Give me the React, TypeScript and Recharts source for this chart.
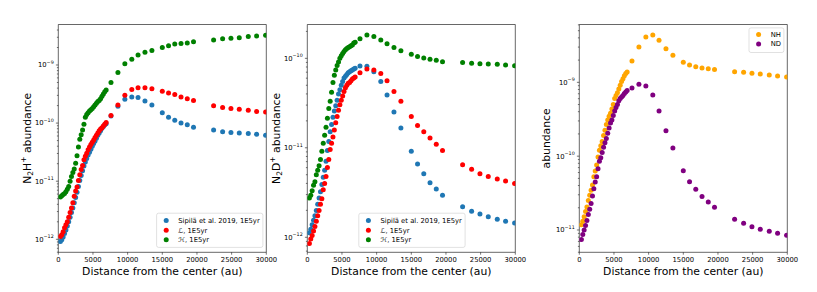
import React from 'react';
import { ScatterChart, Scatter, XAxis, YAxis, ReferenceArea } from 'recharts';

const FONT = '"DejaVu Sans", Verdana, sans-serif';

// Radii (au)
const innerRadii = [300, 500, 700, 900, 1100, 1300, 1500, 1700, 1900, 2100, 2300, 2500, 2700, 2900, 3100, 3300, 3500, 3700, 3900, 4100, 4300, 4500, 4700, 4900, 5100, 5300, 5500, 5700, 5900, 6100, 6300, 6500, 6700, 6900];
const outerRadii = [7600, 8600, 9600, 10600, 11500, 12500, 13500, 15000, 15900, 16800, 17700, 18600, 19500, 22400, 23700, 24900, 26100, 27400, 28600, 29900];
const radii = [...innerRadii, ...outerRadii];

// log10 abundances, panel 1 (N2H+)
const n2hSipilaLog = [-12.04, -12.01, -11.96, -11.90, -11.84, -11.77, -11.70, -11.62, -11.54, -11.46, -11.37, -11.28, -11.19, -11.09, -10.99, -10.90, -10.82, -10.74, -10.67, -10.61, -10.55, -10.50, -10.45, -10.40, -10.35, -10.31, -10.26, -10.21, -10.17, -10.13, -10.09, -10.06, -10.03, -10.01,
  -9.88, -9.71, -9.59, -9.55, -9.56, -9.62, -9.69, -9.82, -9.90, -9.95, -10.00, -10.03, -10.07, -10.12, -10.15, -10.16, -10.17, -10.18, -10.19, -10.21];
const n2hLLog = [-11.95, -11.92, -11.87, -11.80, -11.75, -11.70, -11.62, -11.54, -11.46, -11.37, -11.26, -11.17, -11.10, -10.99, -10.89, -10.80, -10.73, -10.63, -10.57, -10.52, -10.46, -10.41, -10.37, -10.33, -10.29, -10.25, -10.21, -10.17, -10.13, -10.10, -10.08, -10.05, -10.02, -9.99,
  -9.87, -9.69, -9.52, -9.42, -9.39, -9.39, -9.41, -9.45, -9.48, -9.51, -9.55, -9.58, -9.61, -9.70, -9.73, -9.75, -9.76, -9.78, -9.80, -9.81];
const n2hHLog = [-11.27, -11.25, -11.23, -11.21, -11.18, -11.14, -11.09, -11.00, -10.92, -10.85, -10.79, -10.69, -10.56, -10.41, -10.28, -10.20, -10.12, -10.02, -9.90, -9.85, -9.82, -9.79, -9.77, -9.75, -9.72, -9.69, -9.66, -9.63, -9.61, -9.58, -9.54, -9.50, -9.46, -9.43,
  -9.30, -9.13, -8.98, -8.90, -8.83, -8.78, -8.75, -8.70, -8.67, -8.64, -8.63, -8.62, -8.60, -8.57, -8.55, -8.54, -8.53, -8.51, -8.50, -8.49];

// panel 2 (N2D+)
const n2dSipilaLog = [-11.95, -11.91, -11.86, -11.81, -11.76, -11.70, -11.63, -11.56, -11.49, -11.41, -11.33, -11.25, -11.15, -11.03, -10.93, -10.82, -10.74, -10.66, -10.59, -10.53, -10.47, -10.40, -10.35, -10.30, -10.26, -10.22, -10.20, -10.18, -10.16, -10.15, -10.14, -10.13, -10.12, -10.11,
  -10.086, -10.09, -10.15, -10.26, -10.41, -10.60, -10.78, -11.04, -11.18, -11.29, -11.39, -11.46, -11.53, -11.66, -11.71, -11.74, -11.77, -11.80, -11.82, -11.84];
const n2dLLog = [-12.07, -12.02, -11.98, -11.93, -11.88, -11.82, -11.76, -11.70, -11.63, -11.57, -11.47, -11.40, -11.32, -11.22, -11.13, -11.02, -10.95, -10.88, -10.80, -10.72, -10.65, -10.58, -10.52, -10.47, -10.42, -10.37, -10.33, -10.30, -10.28, -10.27, -10.25, -10.23, -10.22, -10.21,
  -10.16, -10.12, -10.13, -10.17, -10.25, -10.37, -10.48, -10.65, -10.75, -10.82, -10.89, -10.96, -11.03, -11.19, -11.24, -11.29, -11.32, -11.35, -11.37, -11.40];
const n2dHLog = [-11.56, -11.53, -11.48, -11.42, -11.38, -11.30, -11.25, -11.20, -11.13, -11.04, -10.95, -10.86, -10.77, -10.67, -10.56, -10.48, -10.38, -10.27, -10.19, -10.13, -10.08, -10.04, -10.00, -9.97, -9.945, -9.925, -9.905, -9.89, -9.88, -9.87, -9.86, -9.85, -9.83, -9.82,
  -9.78, -9.74, -9.755, -9.795, -9.836, -9.88, -9.914, -9.955, -9.98, -9.996, -10.011, -10.022, -10.037, -10.048, -10.056, -10.06, -10.063, -10.067, -10.074, -10.082];

// panel 3 (NH, ND)
const nhLog = [-10.93, -10.88, -10.82, -10.75, -10.69, -10.60, -10.53, -10.46, -10.39, -10.28, -10.20, -10.12, -10.01, -9.92, -9.86, -9.80, -9.72, -9.65, -9.57, -9.51, -9.46, -9.42, -9.36, -9.30, -9.22, -9.18, -9.14, -9.09, -9.04, -8.99, -8.95, -8.91, -8.88, -8.86,
  -8.711, -8.521, -8.386, -8.359, -8.431, -8.544, -8.634, -8.729, -8.765, -8.788, -8.806, -8.815, -8.828, -8.856, -8.865, -8.878, -8.887, -8.90, -8.914, -8.928];
const ndLog = [-11.13, -11.06, -11.00, -10.94, -10.87, -10.79, -10.72, -10.64, -10.54, -10.44, -10.35, -10.28, -10.17, -10.07, -10.02, -9.95, -9.88, -9.82, -9.76, -9.69, -9.62, -9.55, -9.51, -9.45, -9.39, -9.34, -9.30, -9.25, -9.22, -9.20, -9.18, -9.15, -9.13, -9.11,
  -9.077, -9.027, -9.05, -9.172, -9.388, -9.655, -9.889, -10.196, -10.345, -10.449, -10.548, -10.621, -10.693, -10.856, -10.91, -10.955, -10.991, -11.018, -11.045, -11.072];

const xTicks = [0, 5000, 10000, 15000, 20000, 25000, 30000];
const xLabel = 'Distance from the center (au)';
const legend1 = ['Sipilä et al. 2019, 1E5yr', 'ℒ, 1E5yr', 'ℋ, 1E5yr'];
const legend3 = ['NH', 'ND'];

const BLUE = '#1f77b4';
const RED = '#ff0000';
const GREEN = '#008000';
const ORANGE = '#ffa500';
const PURPLE = '#800080';

const W = 817;
const H = 292;
const TOP = 24.5;
const BOTTOM = 252.3;
const R = 2.5;
const FS = 6.8;
const LFS = 10.8;

const build = (logs: number[]) => radii.map((x, i) => ({ x, y: Math.pow(10, logs[i]) }));

function logTicks(lo: number, hi: number) {
  const out: number[] = [];
  for (let k = Math.floor(lo); k <= Math.ceil(hi); k++) {
    for (let m = 1; m <= 9; m++) {
      const v = m * Math.pow(10, k);
      const lv = Math.log10(v);
      if (lv >= lo && lv <= hi) out.push(v);
    }
  }
  return out;
}

type Series = { data: { x: number; y: number }[]; color: string };

function Panel({ left, right, lo, hi, series }: { left: number; right: number; lo: number; hi: number; series: Series[] }) {
  const yW = 40;
  const xH = 30;
  const ticks = logTicks(lo, hi);
  const yTick = (p: any) => {
    const v = p.payload.value;
    const e = Math.log10(v);
    const major = Math.abs(e - Math.round(e)) < 1e-6;
    const len = major ? 2.4 : 1.4;
    return (
      <g>
        <line x1={left - len} x2={left} y1={p.y} y2={p.y} stroke="#000" strokeWidth={0.55} />
        {major && (
          <text x={left - 4.6} y={p.y + 2.4} textAnchor="end" fontFamily={FONT} fontSize={FS} fill="#000">
            10<tspan dy={-3.3} fontSize={4.8}>{'\u2212' + Math.abs(Math.round(e))}</tspan>
          </text>
        )}
      </g>
    );
  };
  const xTick = (p: any) => (
    <g>
      <line x1={p.x} x2={p.x} y1={BOTTOM} y2={BOTTOM + 2.4} stroke="#000" strokeWidth={0.55} />
      <text x={p.x} y={BOTTOM + 9.9} textAnchor="middle" fontFamily={FONT} fontSize={FS} fill="#000">{p.payload.value}</text>
    </g>
  );
  return (
    <div style={{ position: 'absolute', left: 0, top: 0 }}>
      <ScatterChart width={W} height={H} margin={{ left: left - yW, right: W - right, top: TOP, bottom: H - BOTTOM - xH }}>
        <XAxis type="number" dataKey="x" domain={[0, 30000]} allowDataOverflow ticks={xTicks} interval={0} tick={xTick} tickLine={false} axisLine={false} height={xH} />
        <YAxis type="number" dataKey="y" scale="log" domain={[Math.pow(10, lo), Math.pow(10, hi)]} allowDataOverflow ticks={ticks} interval={0} tick={yTick} tickLine={false} axisLine={false} width={yW} />
        {series.map((s, i) => (
          <Scatter key={i} data={s.data} isAnimationActive={false} fill={s.color}
            shape={(p: any) => <circle cx={p.cx} cy={p.cy} r={R} fill={s.color} />} />
        ))}
        <ReferenceArea x1={0} x2={30000} y1={Math.pow(10, lo)} y2={Math.pow(10, hi)} fill="none" fillOpacity={0} stroke="#000" strokeWidth={0.6} ifOverflow="visible" />
      </ScatterChart>
    </div>
  );
}

function YLabel({ x, main, sub, sup }: { x: number; main: string[]; sub?: string; sup?: string }) {
  const cy = (TOP + BOTTOM) / 2;
  return (
    <text transform={`translate(${x},${cy}) rotate(-90)`} textAnchor="middle" fontFamily={FONT} fontSize={LFS} fill="#000">
      {sub ? (
        <>
          {main[0]}
          <tspan dy={2.6} fontSize={7.6}>{sub}</tspan>
          <tspan dy={-2.6}>{main[1]}</tspan>
          <tspan dy={-4.2} fontSize={7.6}>{sup}</tspan>
          <tspan dy={4.2}>{'\u00a0abundance'}</tspan>
        </>
      ) : (
        main[0]
      )}
    </text>
  );
}

function LegendBox({ x, y, w, rows, labels, colors }: { x: number; y: number; w: number; rows: number[]; labels: string[]; colors: string[] }) {
  const h = rows[rows.length - 1] - rows[0] + 15;
  return (
    <g>
      <rect x={x} y={y} width={w} height={h} rx={2} ry={2} fill="#fff" fillOpacity={0.8} stroke="#cccccc" strokeWidth={0.6} />
      {labels.map((l, i) => (
        <g key={i}>
          <circle cx={x + 9.6} cy={rows[i]} r={R} fill={colors[i]} />
          <text x={x + 21.7} y={rows[i] + 2.4} fontFamily={FONT} fontSize={FS} fill="#000">{l}</text>
        </g>
      ))}
    </g>
  );
}

export default function App() {
  const p1: Series[] = [
    { data: build(n2hSipilaLog), color: BLUE },
    { data: build(n2hLLog), color: RED },
    { data: build(n2hHLog), color: GREEN },
  ];
  const p2: Series[] = [
    { data: build(n2dSipilaLog), color: BLUE },
    { data: build(n2dLLog), color: RED },
    { data: build(n2dHLog), color: GREEN },
  ];
  const p3: Series[] = [
    { data: build(nhLog), color: ORANGE },
    { data: build(ndLog), color: PURPLE },
  ];
  return (
    <div style={{ position: 'absolute', left: 0, top: 0, width: W, height: H, background: '#fff', overflow: 'hidden' }}>
      <Panel left={58.3} right={266.3} lo={-12.224} hi={-8.303} series={p1} />
      <Panel left={307.3} right={515.3} lo={-12.168} hi={-9.622} series={p2} />
      <Panel left={579.3} right={787.3} lo={-11.302} hi={-8.217} series={p3} />
      <svg width={W} height={H} style={{ position: 'absolute', left: 0, top: 0, pointerEvents: 'none' }}>
        <YLabel x={30.6} main={['N', 'H']} sub="2" sup="+" />
        <YLabel x={279.6} main={['N', 'D']} sub="2" sup="+" />
        <YLabel x={549.8} main={['abundance']} />
        <text x={162.3} y={274.5} textAnchor="middle" fontFamily={FONT} fontSize={LFS} fill="#000">{xLabel}</text>
        <text x={411.3} y={274.5} textAnchor="middle" fontFamily={FONT} fontSize={LFS} fill="#000">{xLabel}</text>
        <text x={683.3} y={274.5} textAnchor="middle" fontFamily={FONT} fontSize={LFS} fill="#000">{xLabel}</text>
        <LegendBox x={156.6} y={213.2} w={106.3} rows={[220.6, 230.2, 239.8]} labels={legend1} colors={[BLUE, RED, GREEN]} />
        <LegendBox x={358.8} y={213.2} w={106.3} rows={[220.6, 230.2, 239.8]} labels={legend1} colors={[BLUE, RED, GREEN]} />
        <LegendBox x={749} y={27.9} w={34.9} rows={[34.4, 44.0]} labels={legend3} colors={[ORANGE, PURPLE]} />
      </svg>
    </div>
  );
}
